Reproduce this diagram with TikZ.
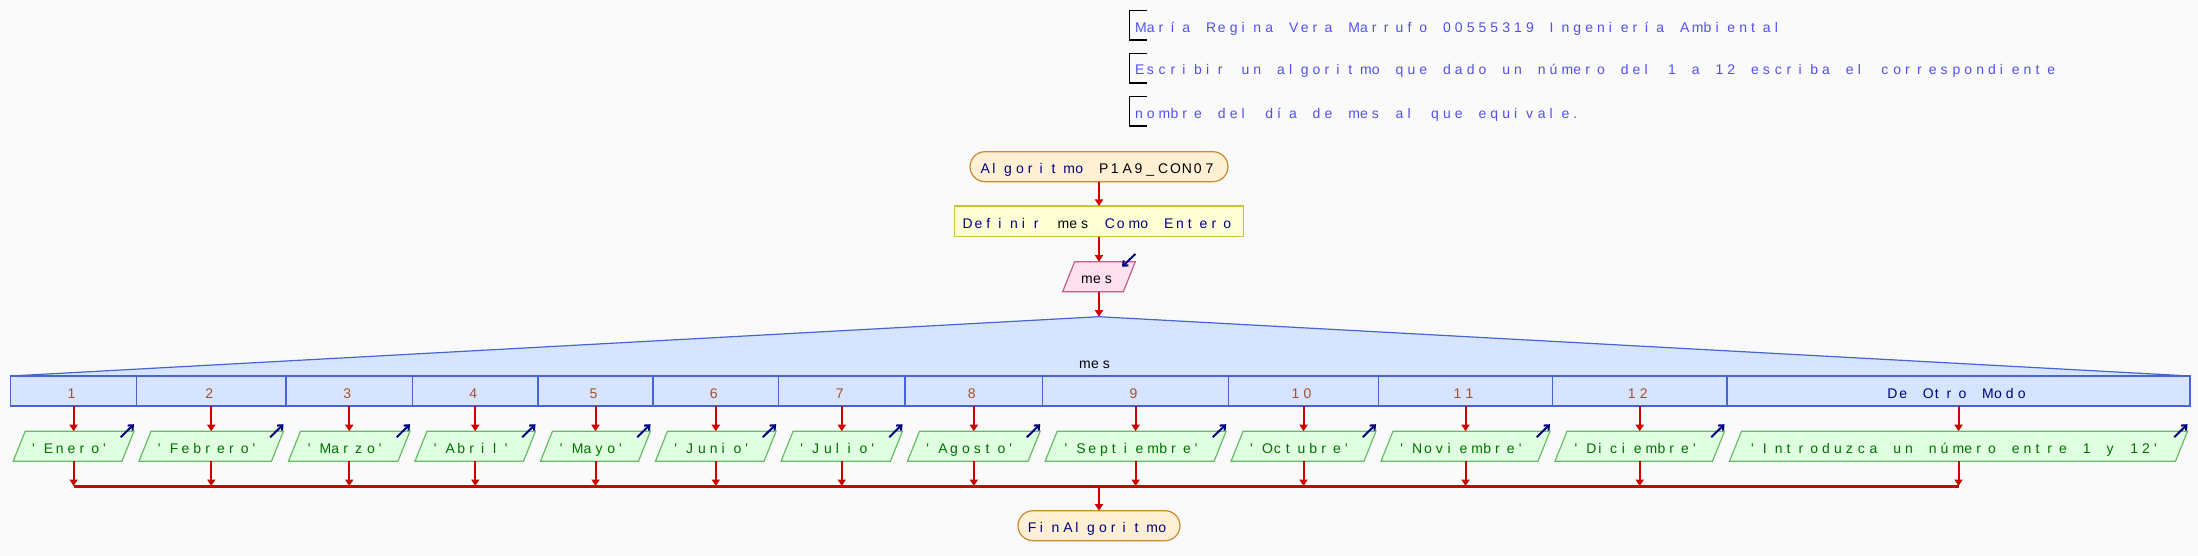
\documentclass[tikz,border=0pt]{standalone}
\usepackage{fontspec}
\newfontfamily\pf{Liberation Sans}
\usetikzlibrary{arrows.meta}
\newlength\cw \setlength\cw{11.85pt}
\ExplSyntaxOn
\NewDocumentCommand\mono{m}{\str_map_inline:nn{#1}{\makebox[\cw][l]{##1}}}
\ExplSyntaxOff
\newcommand\pfont{\pf\fontsize{14pt}{16pt}\selectfont}
\definecolor{bgc}{RGB}{250,250,250}
\definecolor{navy}{RGB}{0,0,128}
\definecolor{cmt}{RGB}{80,80,240}
\definecolor{conn}{RGB}{204,0,0}
\definecolor{termf}{RGB}{255,240,212}
\definecolor{termd}{RGB}{204,136,51}
\definecolor{deff}{RGB}{255,255,214}
\definecolor{defd}{RGB}{196,196,64}
\definecolor{inf}{RGB}{255,224,238}
\definecolor{ind}{RGB}{192,96,136}
\definecolor{outf}{RGB}{224,255,224}
\definecolor{outd}{RGB}{102,187,102}
\definecolor{swf}{RGB}{214,228,255}
\definecolor{swd}{RGB}{70,100,210}
\definecolor{lab}{RGB}{160,82,45}
\definecolor{outt}{RGB}{0,112,0}
\tikzset{
 base/.style={inner sep=0pt, outer sep=0pt, font=\pfont, text height=14pt, text depth=0pt},
 term/.style={base, draw=termd, fill=termf, line width=1.2pt, rounded corners=15pt, minimum height=30pt, text=navy},
 defbox/.style={base, draw=defd, fill=deff, line width=1.2pt, minimum height=30.7pt, text=navy},
 paratxt/.style={base, minimum height=30pt},
 inpara/.style={fill=inf, draw=ind, line width=1.2pt},
 outpara/.style={fill=outf, draw=outd, line width=1.2pt},
 casebox/.style={base, fill=swf, minimum height=30pt, text=lab},
 swline/.style={draw=swd, line width=1.2pt},
 flow/.style={draw=conn, line width=2pt, -{Triangle[length=6.5pt,width=8pt]}},
 mergeline/.style={draw=conn, line width=3pt},
 ioarrow/.style={draw=navy, line width=2pt, -{Straight Barb[length=4pt,width=7pt]}},
 bracket/.style={draw=black, line width=1.2pt},
 cmtnode/.style={inner sep=0pt, outer sep=0pt, font=\pfont, text=cmt, anchor=base west},
}
% name, style, cx, cy, w, text
\newcommand\para[6]{%
  \path[#2] ({#3-#5/2},{#4+15}) -- ({#3-#5/2+12},{#4-15}) -- ({#3+#5/2},{#4-15}) -- ({#3+#5/2-12},{#4+15}) -- cycle;
  \node[paratxt, minimum width={#5-12}] (#1) at (#3,#4) {#6};}
\begin{document}
\begin{tikzpicture}[x=1pt,y=-1pt]
\useasboundingbox (0,0) rectangle (2198,556);
\fill[bgc] (0,0) rectangle (2198,556);
% comments
\draw[bracket] (1147.3,10.7) -- (1129.3,10.7) -- (1129.3,40) -- (1147.3,40);
\draw[bracket] (1147.3,53.3) -- (1129.3,53.3) -- (1129.3,83) -- (1147.3,83);
\draw[bracket] (1147.3,96.7) -- (1129.3,96.7) -- (1129.3,126) -- (1147.3,126);
\node[cmtnode] (cm1) at (1135,32.3) {\mono{María Regina Vera Marrufo 00555319 Ingeniería Ambiental}};
\node[cmtnode] (cm2) at (1135,75) {\mono{Escribir un algoritmo que dado un número del 1 a 12 escriba el correspondiente}};
\node[cmtnode] (cm3) at (1135,118.3) {\mono{nombre del día de mes al que equivale.}};
% top flow
\node[term, minimum width=258] (start) at (1099,166.7) {\mono{Algoritmo }\textcolor{black}{\mono{P1A9_CON07}}};
\node[defbox, minimum width=289] (def) at (1099,221.3) {\mono{Definir }\textcolor{black}{\mono{mes}}\mono{ Como Entero}};
\para{in}{inpara}{1099}{276.7}{72.7}{\mono{mes}}
\coordinate (apex) at (1099,316.7);
\draw[flow] (start) -- (def);
\draw[flow] (def) -- (in);
\draw[ioarrow] ([shift={(6pt,7.7pt)}]in.north east) -- ([shift={(-7.3pt,-5pt)}]in.north east);
\draw[flow] (in.south) -- (apex);
% switch
\fill[swf] (10.7,376) -- (apex) -- (2190,376) -- cycle;
\draw[swline] (10.7,376) -- (apex) -- (2190,376);
\node[base] (swlab) at (1097,361.7) {\mono{mes}};
\node[casebox, minimum width=125.8] (k1) at (73.6,391) {\mono{1}};
\node[casebox, minimum width=149.5] (k2) at (211.25,391) {\mono{2}};
\node[casebox, minimum width=126.5] (k3) at (349.25,391) {\mono{3}};
\node[casebox, minimum width=125.5] (k4) at (475.25,391) {\mono{4}};
\node[casebox, minimum width=115] (k5) at (595.5,391) {\mono{5}};
\node[casebox, minimum width=125.6] (k6) at (715.8,391) {\mono{6}};
\node[casebox, minimum width=126.4] (k7) at (841.8,391) {\mono{7}};
\node[casebox, minimum width=137.7] (k8) at (973.85,391) {\mono{8}};
\node[casebox, minimum width=185.9] (k9) at (1135.65,391) {\mono{9}};
\node[casebox, minimum width=149.9] (k10) at (1303.55,391) {\mono{10}};
\node[casebox, minimum width=174] (k11) at (1465.5,391) {\mono{11}};
\node[casebox, minimum width=174.5] (k12) at (1639.75,391) {\mono{12}};
\node[casebox, minimum width=463, text=navy] (k13) at (1958.5,391) {\mono{De Otro Modo}};
\draw[swline] (k1.north west) rectangle (k13.south east);
\foreach \i in {1,...,12}{\draw[swline] (k\i.north east) -- (k\i.south east);}
% outputs
\para{p1}{outpara}{73.6}{446.2}{120.8}{\color{outt}\mono{'Enero'}}
\para{p2}{outpara}{211.25}{446.2}{144.5}{\color{outt}\mono{'Febrero'}}
\para{p3}{outpara}{349.25}{446.2}{121.5}{\color{outt}\mono{'Marzo'}}
\para{p4}{outpara}{475.25}{446.2}{120.5}{\color{outt}\mono{'Abril'}}
\para{p5}{outpara}{595.5}{446.2}{110}{\color{outt}\mono{'Mayo'}}
\para{p6}{outpara}{715.8}{446.2}{120.6}{\color{outt}\mono{'Junio'}}
\para{p7}{outpara}{841.8}{446.2}{121.4}{\color{outt}\mono{'Julio'}}
\para{p8}{outpara}{973.85}{446.2}{132.7}{\color{outt}\mono{'Agosto'}}
\para{p9}{outpara}{1135.65}{446.2}{180.9}{\color{outt}\mono{'Septiembre'}}
\para{p10}{outpara}{1303.55}{446.2}{144.9}{\color{outt}\mono{'Octubre'}}
\para{p11}{outpara}{1465.5}{446.2}{169}{\color{outt}\mono{'Noviembre'}}
\para{p12}{outpara}{1639.75}{446.2}{169.5}{\color{outt}\mono{'Diciembre'}}
\para{p13}{outpara}{1958.5}{446.2}{458}{\color{outt}\mono{'Introduzca un número entre 1 y 12'}}
\coordinate (m) at (1099,486);
\foreach \i in {1,...,13}{
  \draw[flow] (k\i.south) -- (p\i.north);
  \draw[ioarrow] ([shift={(-7.3pt,-6pt)}]p\i.north east) -- ([shift={(6pt,7pt)}]p\i.north east);
  \draw[flow] (p\i.south) -- (p\i.south |- m);
}
\draw[mergeline] (p1.south |- m) -- (p13.south |- m);
\node[term, minimum width=162] (end) at (1099,525.7) {\mono{FinAlgoritmo}};
\draw[flow] (m) -- (end);
\end{tikzpicture}
\end{document}
